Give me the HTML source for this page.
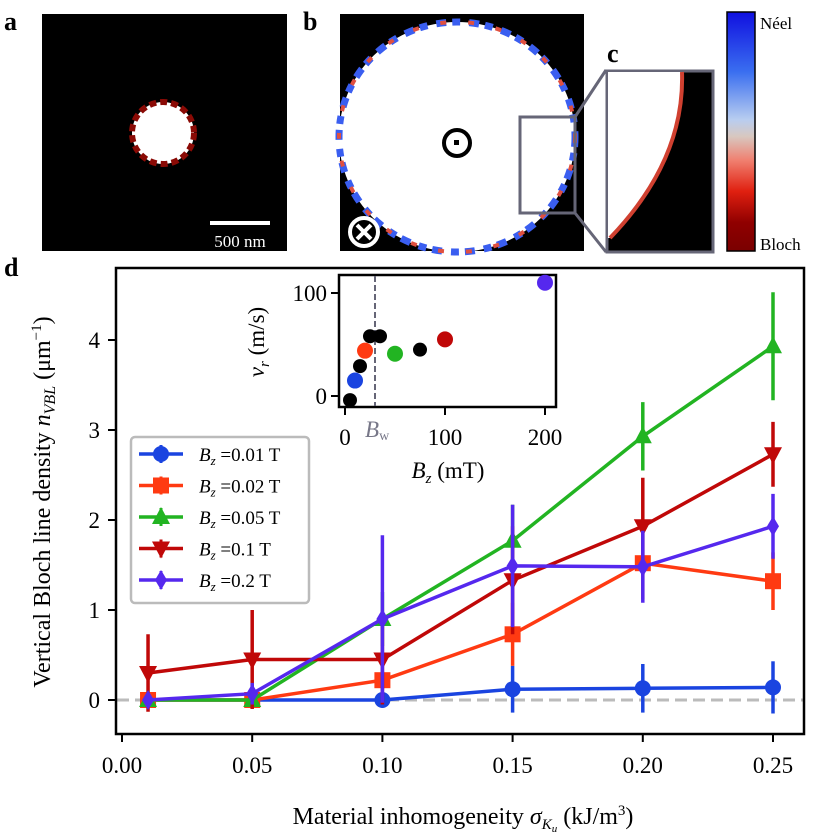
<!DOCTYPE html>
<html><head><meta charset="utf-8"><style>
html,body{margin:0;padding:0;background:#fff}
svg{display:block;font-family:"Liberation Serif",serif}
</style></head><body>
<svg id="fig" width="815" height="834" viewBox="0 0 815 834" xmlns="http://www.w3.org/2000/svg">
<defs>
<linearGradient id="cb" x1="0" y1="0" x2="0" y2="1">
<stop offset="0" stop-color="#1010e0"/><stop offset="0.25" stop-color="#3a6ef0"/><stop offset="0.45" stop-color="#b8cdf0"/><stop offset="0.52" stop-color="#d8c8c0"/><stop offset="0.62" stop-color="#f08070"/><stop offset="0.75" stop-color="#e02010"/><stop offset="0.88" stop-color="#900000"/><stop offset="1" stop-color="#7a0000"/>
</linearGradient>
</defs>
<text x="4" y="30" font-size="26" font-weight="bold">a</text>
<rect x="42" y="14" width="245" height="237" fill="#000"/>
<circle cx="163" cy="133" r="31" fill="#fff" stroke="#8a0a05" stroke-width="6" stroke-dasharray="7 4"/>
<rect x="210" y="221" width="60" height="4" fill="#fff"/>
<text x="240" y="247" font-size="17" fill="#fff" text-anchor="middle">500 nm</text>
<text x="303" y="30" font-size="26" font-weight="bold">b</text>
<rect x="340" y="14" width="244" height="237" fill="#000"/>
<ellipse cx="457" cy="137" rx="118" ry="115" fill="#fff" stroke="#3a5ef0" stroke-width="7" stroke-dasharray="10 6 8 9"/>
<ellipse cx="457" cy="137" rx="118" ry="115" fill="none" stroke="#e05040" stroke-width="4" stroke-dasharray="6 22"/>
<circle cx="457" cy="143" r="13" fill="none" stroke="#000" stroke-width="4"/>
<rect x="454" y="140" width="5" height="5" fill="#000"/>
<circle cx="364" cy="232" r="14" fill="none" stroke="#fff" stroke-width="4"/>
<path d="M357 225 L371 239 M371 225 L357 239" stroke="#fff" stroke-width="4"/>
<rect x="520" y="117" width="55" height="96" fill="none" stroke="#667" stroke-width="3"/>
<path d="M575 117 L606 70 M575 213 L606 252" stroke="#667" stroke-width="3" fill="none"/>
<text x="607" y="62" font-size="26" font-weight="bold">c</text>
<rect x="607" y="71" width="106" height="181" fill="#000" stroke="#667" stroke-width="3"/>
<path d="M608 72 L682 72 Q685 160 610 238 L608 238 Z" fill="#fff"/>
<path d="M682 72 Q685 160 610 238" fill="none" stroke="#d04030" stroke-width="4"/>
<rect x="727" y="12" width="28" height="239" fill="url(#cb)" stroke="#000" stroke-width="1.5"/>
<text x="760" y="29" font-size="17">Néel</text>
<text x="760" y="250" font-size="17">Bloch</text>
<text x="4" y="276" font-size="26" font-weight="bold">d</text>
<g id="main"></g>
<g id="inset"></g>
</svg>
<script>
const xs = [0.01, 0.05, 0.10, 0.15, 0.20, 0.25];
const xTicks = [0.00, 0.05, 0.10, 0.15, 0.20, 0.25];
const yTicks = [0, 1, 2, 3, 4];
const seriesNames = ["B_z =0.01 T", "B_z =0.02 T", "B_z =0.05 T", "B_z =0.1 T", "B_z =0.2 T"];
const legendValues = ["0.01", "0.02", "0.05", "0.1", "0.2"];
const s001 = [0, 0, 0, 0.12, 0.13, 0.14];
const e001 = [0.05, 0.05, 0.05, 0.26, 0.27, 0.29];
const s002 = [0, 0, 0.22, 0.73, 1.52, 1.32];
const e002 = [0.05, 0.05, 0.1, 0.35, 0.4, 0.32];
const s005 = [0, 0, 0.9, 1.77, 2.93, 3.93];
const e005 = [0.05, 0.05, 0.3, 0.4, 0.38, 0.6];
const s01 = [0.3, 0.45, 0.45, 1.33, 1.93, 2.73];
const e01 = [0.43, 0.55, 0.5, 0.6, 0.54, 0.36];
const s02 = [0, 0.07, 0.9, 1.49, 1.48, 1.93];
const e02 = [0.05, 0.12, 0.93, 0.68, 0.4, 0.36];
const insetBX = [5, 15, 25, 35, 75];
const insetBY = [-4, 29, 58, 58, 45];
const insetCX = [10, 20, 50, 100, 200];
const insetCY = [15, 44, 41, 55, 110];
const insetXTicks = [0, 100, 200];
const insetYTicks = [0, 100];
const insetBw = 30;

const NS = "http://www.w3.org/2000/svg";
function mk(parent, tag, attrs, text) {
  const el = document.createElementNS(NS, tag);
  for (const k in attrs) el.setAttribute(k, attrs[k]);
  if (text !== undefined) el.textContent = text;
  parent.appendChild(el);
  return el;
}
const X = v => 122 + (v / 0.05) * 130.2;
const Y = v => 700 - v * 90;
const main = document.getElementById("main");
const colors = ["#1a44e0", "#ff3a12", "#22b422", "#c00808", "#5528ee"];
const markers = ["circle", "square", "up", "down", "diamond"];
const data = [s001, s002, s005, s01, s02];
const errs = [e001, e002, e005, e01, e02];

function marker(g, type, cx, cy, color) {
  let el;
  if (type === "circle") el = mk(g, "circle", {cx, cy, r: 8, fill: color});
  else if (type === "square") el = mk(g, "rect", {x: cx - 8, y: cy - 8, width: 16, height: 16, fill: color});
  else if (type === "up") el = mk(g, "path", {d: `M${cx} ${cy-10} L${cx+9} ${cy+7} L${cx-9} ${cy+7}Z`, fill: color});
  else if (type === "down") el = mk(g, "path", {d: `M${cx} ${cy+10} L${cx+9} ${cy-7} L${cx-9} ${cy-7}Z`, fill: color});
  else el = mk(g, "path", {d: `M${cx} ${cy-10} L${cx+6} ${cy} L${cx} ${cy+10} L${cx-6} ${cy}Z`, fill: color});
  
  
  return el;
}

const zl = mk(main, "line", {x1: 117, x2: 804, y1: Y(0), y2: Y(0), stroke: "#bbb", "stroke-width": 3, "stroke-dasharray": "12 6"});



data.forEach((s, i) => {
  const g = mk(main, "g", {});
  
  
  s.forEach((v, j) => {
    const eb = mk(g, "line", {x1: X(xs[j]), x2: X(xs[j]), y1: Y(v - errs[i][j]), y2: Y(v + errs[i][j]), stroke: colors[i], "stroke-width": 3.5});
    
    
  });
  const pl = mk(g, "polyline", {points: s.map((v, j) => X(xs[j]) + "," + Y(v)).join(" "), fill: "none", stroke: colors[i], "stroke-width": 3.5});
  
  
  s.forEach((v, j) => marker(g, markers[i], X(xs[j]), Y(v), colors[i]));
});

const fr = mk(main, "rect", {x: 116, y: 268, width: 688, height: 466, fill: "none", stroke: "#000", "stroke-width": 2.5});


xTicks.forEach(t => {
  const tk = mk(main, "line", {x1: X(t), x2: X(t), y1: 734, y2: 742, stroke: "#000", "stroke-width": 2});
  
  
  const tl = mk(main, "text", {x: X(t), y: 773, "font-size": 23, "text-anchor": "middle"}, t.toFixed(2));
  
  
});
yTicks.forEach(t => {
  const tk = mk(main, "line", {x1: 108, x2: 116, y1: Y(t), y2: Y(t), stroke: "#000", "stroke-width": 2});
  
  
  const tl = mk(main, "text", {x: 100, y: Y(t) + 8, "font-size": 23, "text-anchor": "end"}, String(t));
  
  
});
const xl = mk(main, "text", {x: 463, y: 824, "font-size": 24, "text-anchor": "middle"});


xl.innerHTML = 'Material inhomogeneity <tspan font-style="italic">σ</tspan><tspan font-style="italic" font-size="15" dy="5">K</tspan><tspan font-style="italic" font-size="11" dy="3">u</tspan><tspan dy="-8"> (kJ/m</tspan><tspan font-size="15" dy="-9">3</tspan><tspan dy="9">)</tspan>';
const yl = mk(main, "text", {x: 0, y: 0, "font-size": 24, "text-anchor": "middle", transform: "translate(50,502) rotate(-90)"});


yl.innerHTML = 'Vertical Bloch line density <tspan font-style="italic">n</tspan><tspan font-style="italic" font-size="16" dy="5">VBL</tspan><tspan dy="-5"> (μm</tspan><tspan font-size="15" dy="-9">−1</tspan><tspan dy="9">)</tspan>';

const lg = mk(main, "g", {});


const lb = mk(lg, "rect", {x: 131, y: 437, width: 178, height: 166, rx: 4, fill: "#fff", stroke: "#bbb", "stroke-width": 2.5});


legendValues.forEach((v, i) => {
  const y = 454 + i * 31.5;
  const e = mk(lg, "g", {});
  
  
  mk(e, "line", {x1: 139, x2: 183, y1: y, y2: y, stroke: colors[i], "stroke-width": 3.5});
  mk(e, "line", {x1: 161, x2: 161, y1: y - 9, y2: y + 9, stroke: colors[i], "stroke-width": 3});
  marker(e, markers[i], 161, y, colors[i]);
  const t = mk(e, "text", {x: 199, y: y + 7, "font-size": 19});
  t.innerHTML = '<tspan font-style="italic">B</tspan><tspan font-style="italic" font-size="13" dy="4">z</tspan><tspan dy="-4"> =' + v + ' T</tspan>';
});

const ins = document.getElementById("inset");
const IX = v => 345 + v;
const IY = v => 396 - v * 1.03;
const ib = mk(ins, "rect", {x: 339, y: 275, width: 217, height: 132, fill: "#fff", stroke: "#000", "stroke-width": 2.5});


const bw = mk(ins, "line", {x1: IX(insetBw), x2: IX(insetBw), y1: 276, y2: 406, stroke: "#667", "stroke-width": 2, "stroke-dasharray": "6 3"});


insetBX.forEach((x, i) => {
  const c = mk(ins, "circle", {cx: IX(x), cy: IY(insetBY[i]), r: 7, fill: "#000"});
  
  
});
insetCX.forEach((x, i) => {
  const c = mk(ins, "circle", {cx: IX(x), cy: IY(insetCY[i]), r: 8, fill: colors[i]});
  
  
});
insetXTicks.forEach(t => {
  const tk = mk(ins, "line", {x1: IX(t), x2: IX(t), y1: 407, y2: 415, stroke: "#000", "stroke-width": 2});
  
  
  const tl = mk(ins, "text", {x: IX(t), y: 445, "font-size": 23, "text-anchor": "middle"}, String(t));
  
  
});
insetYTicks.forEach(t => {
  const tk = mk(ins, "line", {x1: 331, x2: 339, y1: IY(t), y2: IY(t), stroke: "#000", "stroke-width": 2});
  
  
  const tl = mk(ins, "text", {x: 327, y: IY(t) + 8, "font-size": 23, "text-anchor": "end"}, String(t));
  
  
});
const bwl = mk(ins, "text", {x: IX(insetBw) - 10, y: 437, "font-size": 23, fill: "#778"});


bwl.innerHTML = '<tspan font-style="italic">B</tspan><tspan font-size="14" dy="3">w</tspan>';
const ixl = mk(ins, "text", {x: 448, y: 478, "font-size": 23, "text-anchor": "middle"});


ixl.innerHTML = '<tspan font-style="italic">B</tspan><tspan font-style="italic" font-size="15" dy="5">z</tspan><tspan dy="-5"> (mT)</tspan>';
const iyl = mk(ins, "text", {x: 0, y: 0, "font-size": 23, "text-anchor": "middle", transform: "translate(264,342) rotate(-90)"});


iyl.innerHTML = '<tspan font-style="italic">v</tspan><tspan font-style="italic" font-size="15" dy="5">r</tspan><tspan dy="-5"> (m/s)</tspan>';
</script>
</body></html>
